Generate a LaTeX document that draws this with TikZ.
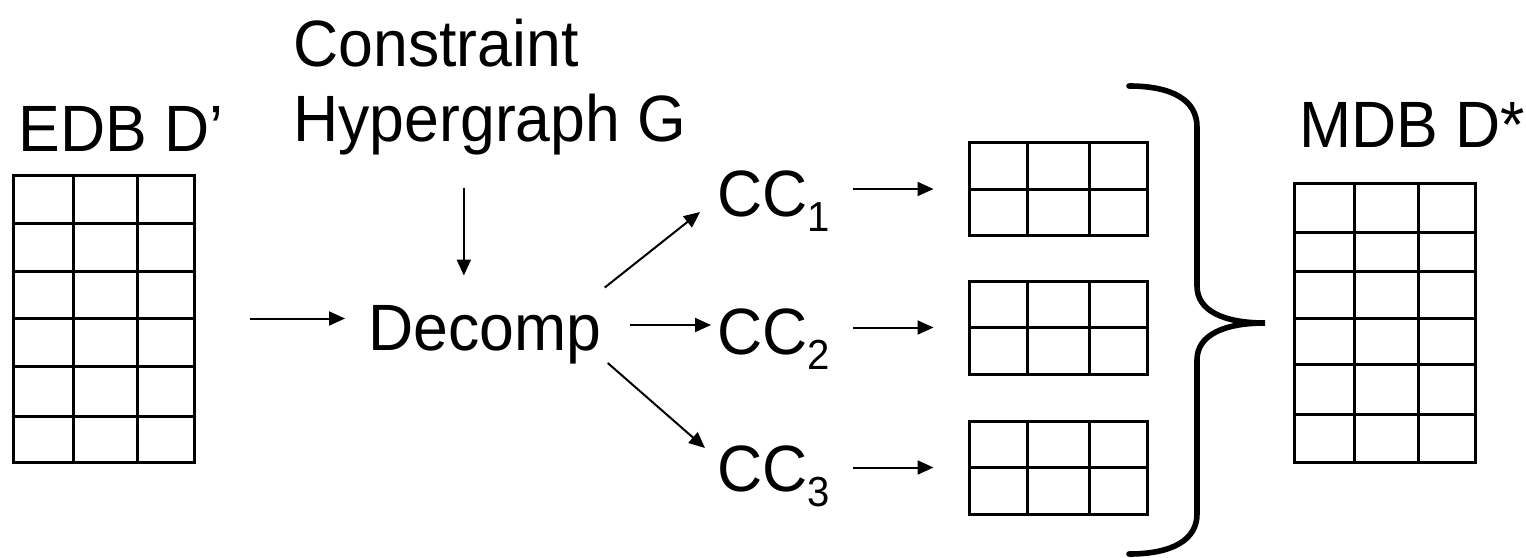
\documentclass[tikz,border=0pt]{standalone}
\usepackage{fontspec}
\setmainfont[FakeStretch=0.955]{Liberation Sans}
\usetikzlibrary{arrows.meta}
\newcommand{\ccsub}[1]{CC\raisebox{-7.5pt}{\fontsize{21}{24}\selectfont #1}}
\begin{document}
\begin{tikzpicture}[x=0.5pt,y=-0.5pt,
    lbl/.style={inner sep=0pt,anchor=base west,font=\fontsize{32.75}{36}\selectfont},
    tbl/.style={draw,line width=1.5pt,inner sep=0pt},
    arr/.style={-{Triangle[length=8pt,width=7pt]},line width=1pt}]
  \useasboundingbox (0,0) rectangle (1526,557);
  % labels
  \node[lbl] (edbl) at (18,151) {EDB D’};
  \node[lbl] (cons) at (293,66) {Constraint};
  \node[lbl] (hyp) at (293,141) {Hypergraph G};
  \node[lbl] (dec) at (368,350) {Decomp};
  \node[lbl] (cc1) at (717,216) {\ccsub{1}};
  \node[lbl] (cc2) at (717,354) {\ccsub{2}};
  \node[lbl] (cc3) at (717,491) {\ccsub{3}};
  \node[lbl] (mdbl) at (1299,147) {MDB D*};
  % tables
  \node[tbl,minimum width=90.5pt,minimum height=143.5pt] (edb) at (103.5,318.5) {};
  \node[tbl,minimum width=90.5pt,minimum height=139.5pt] (mdb) at (1384.5,322.5) {};
  \begin{scope}[line width=1.5pt]
    \foreach \x in {73,137} \draw (\x,175) -- (\x,462);
    \foreach \y in {223,271,318,366,416} \draw (13,\y) -- (194,\y);
    \foreach \x in {1354,1418} \draw (\x,183) -- (\x,462);
    \foreach \y in {232,271,318,364,414} \draw (1294,\y) -- (1475,\y);
    \foreach \y [count=\i] in {189,327.5,467.5} {
      \node[tbl,minimum width=89pt,minimum height=46.5pt] (t\i) at (1058,\y) {};
      \draw (969,\y) -- (1147,\y);
      \foreach \x in {1027,1089} \draw (\x,{\y-46.5}) -- (\x,{\y+46.5});
    }
  \end{scope}
  % arrows
  \begin{scope}[arr]
    \draw ([xshift=27pt]edb.east) -- ([xshift=-11.5pt]edb.east -| dec.west);
    \draw ([xshift=-13pt,yshift=-16.5pt]hyp.south) -- ([xshift=-13pt,yshift=14.5pt]dec.north -| hyp.south);
    \draw ([xshift=1.5pt,yshift=8.5pt]dec.north east) -- ([xshift=-8.5pt,yshift=2pt]cc1.base west);
    \draw ([xshift=14pt,yshift=12.5pt]dec.base east) -- ([xshift=-3pt,yshift=14.5pt]cc2.base west);
    \draw ([xshift=3pt,yshift=0.5pt]dec.south east) -- ([xshift=-6pt,yshift=21.5pt]cc3.base west);
    \draw ([xshift=11.5pt]cc1.east |- t1.west) -- ([xshift=-17pt]t1.west);
    \draw ([xshift=11.5pt]cc2.east |- t2.west) -- ([xshift=-17pt]t2.west);
    \draw ([xshift=11.5pt]cc3.east |- t3.west) -- ([xshift=-17pt]t3.west);
  \end{scope}
  % brace
  \draw[line width=2.8pt,line cap=round] (1129,86) .. controls (1172,86) and (1197,100) .. (1197,127)
    -- (1197,286) .. controls (1197,311) and (1224,323) .. (1265,323)
    .. controls (1224,323) and (1197,335) .. (1197,360)
    -- (1197,514) .. controls (1197,540) and (1172,554) .. (1129,554);
\end{tikzpicture}
\end{document}
